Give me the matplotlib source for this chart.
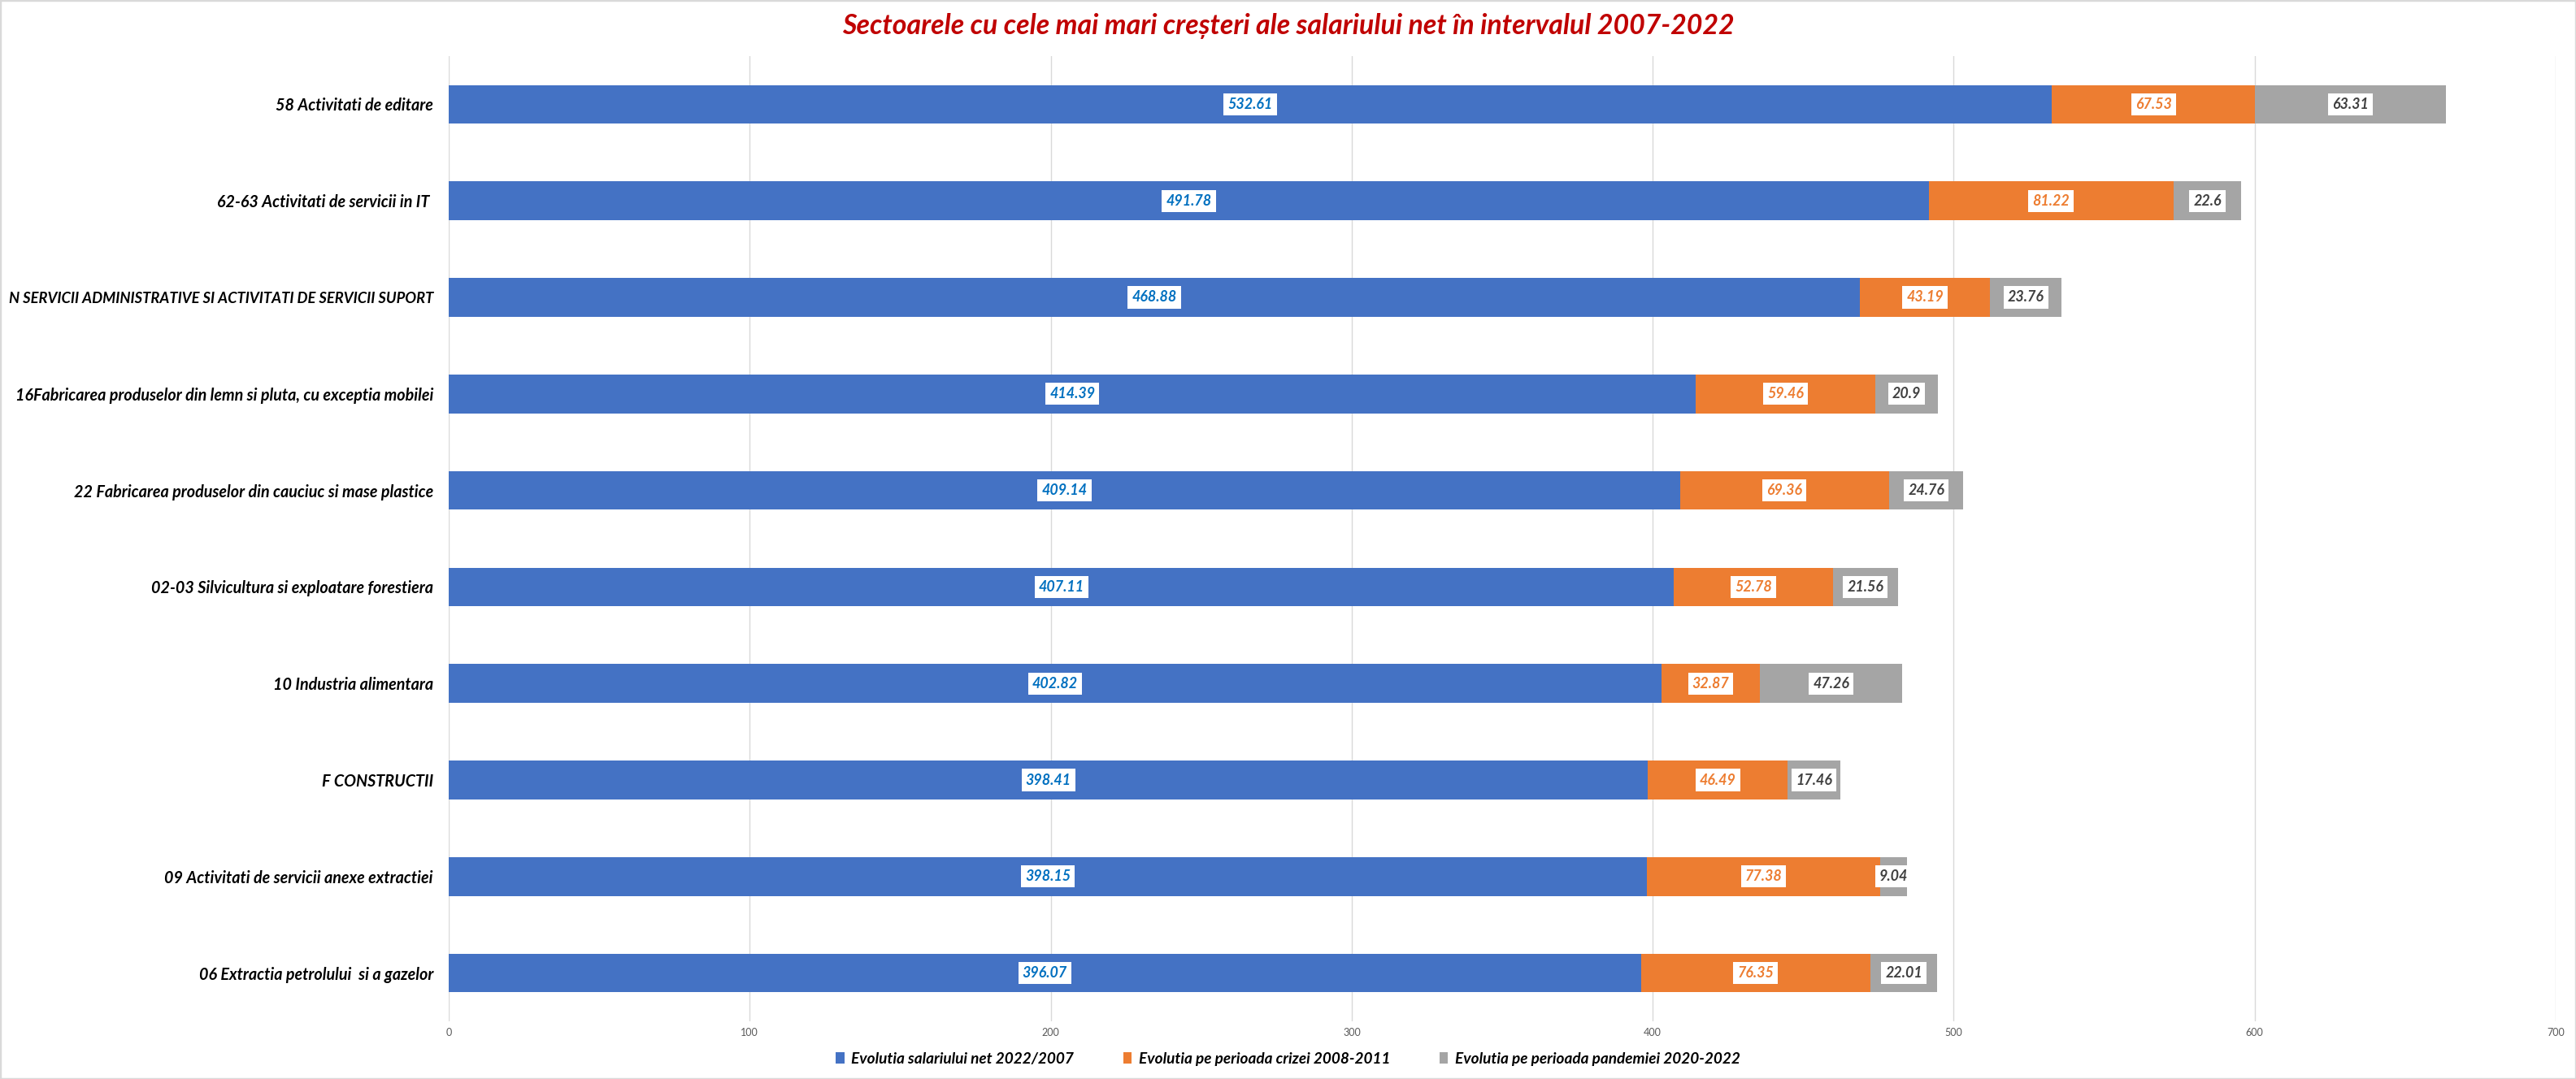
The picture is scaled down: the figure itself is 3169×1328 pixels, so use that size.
import matplotlib
matplotlib.use("Agg")
import matplotlib.pyplot as plt
from matplotlib.patches import Rectangle, Patch

# ---------------- data ----------------
categories = [
    "58 Activitati de editare",
    "62-63 Activitati de servicii in IT ",
    "N SERVICII ADMINISTRATIVE SI ACTIVITATI DE SERVICII SUPORT",
    "16Fabricarea produselor din lemn si pluta, cu exceptia mobilei",
    "22 Fabricarea produselor din cauciuc si mase plastice",
    "02-03 Silvicultura si exploatare forestiera",
    "10 Industria alimentara",
    "F CONSTRUCTII",
    "09 Activitati de servicii anexe extractiei",
    "06 Extractia petrolului  si a gazelor",
]
evol_total = [532.61, 491.78, 468.88, 414.39, 409.14, 407.11, 402.82, 398.41, 398.15, 396.07]
evol_criza = [67.53, 81.22, 43.19, 59.46, 69.36, 52.78, 32.87, 46.49, 77.38, 76.35]
evol_pandemie = [63.31, 22.6, 23.76, 20.9, 24.76, 21.56, 47.26, 17.46, 9.04, 22.01]
series_names = [
    "Evolutia salariului net 2022/2007",
    "Evolutia pe perioada crizei 2008-2011",
    "Evolutia pe perioada pandemiei 2020-2022",
]
title = "Sectoarele cu cele mai mari creșteri ale salariului net în intervalul 2007-2022"
x_ticks = [0, 100, 200, 300, 400, 500, 600, 700]

# ---------------- style ----------------
W, H, DPI = 3169, 1328, 100
FONT = ["Lato", "DejaVu Sans"]
plt.rcParams["font.family"] = FONT
colors = ["#4472C4", "#ED7D31", "#A5A5A5"]
label_colors = ["#0070C0", "#ED7D31", "#404040"]

fig = plt.figure(figsize=(W / DPI, H / DPI), dpi=DPI)
fig.patch.set_facecolor("white")
renderer = fig.canvas.get_renderer()


def fit_size(text, target_px, base=20, **kw):
    t = fig.text(0, 0, text, fontsize=base, **kw)
    w = t.get_window_extent(renderer).width
    t.remove()
    return base * target_px / w


BI = dict(fontweight="bold", fontstyle="italic")
ylab_fs = fit_size(categories[3], 513, **BI)
caps_fs = min(ylab_fs, fit_size(categories[2], 522, **BI))
title_fs = fit_size(title, 1096, **BI)
leg_fs = fit_size(series_names[0], 274, **BI)
dl_fs = fit_size("47.26", 45, **BI)

left, right = 552 / W, 3144 / W
bottom, top = 1 - 1257 / H, 1 - 69 / H
ax = fig.add_axes([left, bottom, right - left, top - bottom])

n = len(categories)
ypos = list(range(n))
bar_h = 0.40
lefts = [0.0] * n
all_series = [evol_total, evol_criza, evol_pandemie]
for s, vals in enumerate(all_series):
    ax.barh(ypos, vals, height=bar_h, left=lefts, color=colors[s],
            label=series_names[s], zorder=3)
    for i, v in enumerate(vals):
        ax.text(lefts[i] + v / 2, i, f"{v:g}", ha="center", va="center",
                fontsize=dl_fs, color=label_colors[s], zorder=5,
                bbox=dict(boxstyle="square,pad=0.28", fc="white", ec="none"),
                **BI)
    lefts = [a + b for a, b in zip(lefts, vals)]

ax.set_xlim(0, 700)
ax.set_ylim(n - 0.5, -0.5)
ax.set_xticks(x_ticks)
ax.set_xticklabels([str(t) for t in x_ticks])
ax.set_yticks(ypos)
ax.set_yticklabels(categories, fontsize=ylab_fs, color="black", **BI)
ax.get_yticklabels()[2].set_fontsize(caps_fs)
ax.tick_params(axis="y", length=0, pad=13.7)
ax.tick_params(axis="x", length=0, pad=6, labelsize=9, labelcolor="#595959")
for sp in ax.spines.values():
    sp.set_visible(False)
ax.grid(axis="x", color="#D9D9D9", linewidth=1.0, zorder=0)
ax.set_axisbelow(True)

fig.text(0.5, 1 - 32 / H, title, ha="center", va="center",
         fontsize=title_fs, color="#C00000", **BI)

handles = [Patch(facecolor=c, edgecolor="none") for c in colors]
leg = fig.legend(handles, series_names, loc="center",
                 bbox_to_anchor=(0.5, 1 - 1303 / H), ncol=3, frameon=False,
                 handlelength=0.55, handleheight=0.75, handletextpad=0.45,
                 columnspacing=3.2,
                 prop=dict(family=FONT, weight="bold", style="italic", size=leg_fs))

fig.patches.append(Rectangle((0, 0), 1, 1, transform=fig.transFigure,
                             fill=False, edgecolor="#D9D9D9", linewidth=2.5))

fig.savefig("out.png", dpi=DPI, facecolor="white")
